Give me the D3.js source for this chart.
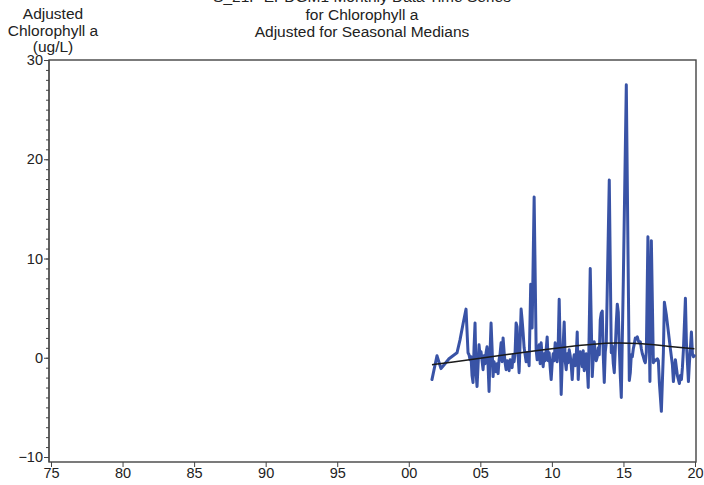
<!DOCTYPE html>
<html><head><meta charset="utf-8">
<script src="https://cdn.jsdelivr.net/npm/d3@7/dist/d3.min.js"></script>
<style>body{margin:0;background:#fff}svg{display:block}text{font-family:"Liberation Sans",Arial,sans-serif}</style>
</head><body><svg id="c" width="704" height="485"></svg>
<script>
const titleLines = ["S_21P EPDGM1 Monthly Data Time Series", "for Chlorophyll a", "Adjusted for Seasonal Medians"];
const yLabelLines = ["Adjusted", "Chlorophyll a", "(ug/L)"];
const xTicks = [1975, 1980, 1985, 1990, 1995, 2000, 2005, 2010, 2015, 2020];
const yTicks = [-10, 0, 10, 20, 30];

const years = [2001.62,2001.97,2002.25,2002.53,2002.81,2003.09,2003.37,2003.58,2003.79,2004.00,
2004.14,2004.21,2004.28,2004.35,2004.42,2004.49,2004.56,2004.63,2004.70,2004.77,2004.84,2004.91,2004.98,
2005.05,2005.12,2005.19,2005.26,2005.33,2005.40,2005.47,2005.54,2005.61,2005.68,2005.75,2005.82,2005.89,2005.96,
2006.03,2006.10,2006.17,2006.24,2006.31,2006.38,2006.45,2006.52,2006.59,2006.66,2006.73,2006.80,2006.87,2006.94,
2007.01,2007.08,2007.15,2007.22,2007.29,2007.36,2007.43,2007.50,2007.57,2007.64,2007.71,2007.78,2007.85,2007.92,2007.99,
2008.06,2008.13,2008.20,2008.27,2008.34,2008.41,2008.52,2008.62,2008.76,2008.90,2008.97,
2009.04,2009.11,2009.18,2009.25,2009.32,2009.39,2009.46,2009.53,2009.60,2009.67,2009.74,2009.81,2009.88,2009.95,
2010.02,2010.09,2010.16,2010.23,2010.30,2010.37,2010.44,2010.51,2010.58,2010.65,2010.72,2010.79,2010.86,2010.93,
2011.00,2011.07,2011.14,2011.21,2011.28,2011.35,2011.42,2011.49,2011.56,2011.63,2011.70,2011.77,2011.84,2011.91,2011.98,
2012.05,2012.12,2012.19,2012.26,2012.33,2012.40,2012.47,2012.54,2012.68,2012.82,2012.89,2012.96,
2013.03,2013.10,2013.17,2013.24,2013.31,2013.38,2013.45,2013.52,2013.59,2013.66,2013.73,2013.80,
2014.01,2014.15,2014.22,2014.29,2014.36,2014.43,2014.50,2014.57,2014.64,2014.71,2014.78,2014.85,2014.99,
2015.20,2015.41,2015.48,2015.55,2015.62,2015.69,2015.76,2015.83,2015.90,2015.97,
2016.04,2016.11,2016.18,2016.25,2016.32,2016.39,2016.46,2016.53,2016.60,2016.71,2016.85,2016.95,
2017.09,2017.16,2017.23,2017.30,2017.37,2017.44,2017.51,2017.65,2017.79,2017.86,
2018.00,2018.14,2018.28,2018.42,2018.49,2018.63,2018.70,2018.77,2018.84,2018.91,2018.98,
2019.05,2019.12,2019.19,2019.33,2019.40,2019.54,2019.61,2019.68,2019.75,2019.82,2019.89,2019.96];

const chla = [-2.2,0.2,-1.1,-0.6,-0.1,0.2,0.5,1.8,3.4,4.9,
0.5,0.3,-0.2,0.1,-1.8,-2.5,1.0,3.5,-1.5,-2.9,-0.8,1.3,0.2,
0.6,-0.3,-1.2,0.2,-0.6,0.5,1.1,-0.8,-3.4,0.6,3.5,1.0,-1.9,-0.4,
-0.9,-1.4,-0.6,-1.6,-0.2,0.4,1.5,-0.4,2.0,0.6,-0.5,-1.2,-0.3,-0.6,
-1.3,-0.2,-0.7,-1.0,0.3,-0.4,0.6,3.5,3.1,0.2,-1.5,1.6,4.9,3.8,2.5,
1.0,0.3,-0.4,0.5,0.0,-0.8,7.4,3.0,16.2,0.8,-0.2,
0.6,1.3,-0.6,1.5,0.1,-0.9,0.4,-0.3,0.8,2.1,-0.3,0.5,-1.0,-2.2,
-0.6,0.4,-0.3,1.5,0.4,-0.4,1.2,5.9,1.0,-3.7,-0.6,1.4,3.6,-0.3,
-1.2,0.4,-0.5,0.8,0.2,-0.7,-2.2,-0.4,0.3,-0.8,0.1,2.6,-2.2,-0.2,0.6,
0.1,-0.9,0.7,-1.3,-0.2,0.4,-1.0,-3.0,9.0,-1.9,0.0,1.6,
0.4,-0.3,0.1,1.0,0.3,3.8,4.5,4.7,0.2,-2.5,0.6,1.5,
17.9,0.5,1.2,-0.6,-1.5,0.9,3.5,5.4,4.6,1.0,-1.8,-4.0,7.7,
27.5,-2.3,-1.5,0.3,0.1,0.9,1.4,2.0,1.9,2.1,
1.7,1.5,1.6,0.9,0.4,0.1,-0.3,-0.5,0.6,12.2,-2.4,11.8,
-0.5,-0.2,-0.3,-0.2,-0.1,-0.3,-2.5,-5.4,0.5,5.6,
4.3,2.6,0.9,-0.7,-2.4,-0.2,-1.0,-1.8,-2.2,-2.6,-1.8,
-2.2,-1.0,0.8,6.0,1.5,-2.4,-0.5,1.0,2.6,0.4,0.1,0.2];

const trendYears = [2001.62,2003,2005,2007,2009,2011,2013,2014.5,2016,2017.5,2019.96];
const trendVals  = [-0.7,-0.45,-0.05,0.35,0.75,1.1,1.4,1.5,1.45,1.25,0.9];

const svg = d3.select("#c");
const x = d3.scaleLinear().domain([1975, 2020]).range([51, 695]);
const y = d3.scaleLinear().domain([-10, 30]).range([457, 60]);
const frame = {l: 49, r: 696, t: 60, b: 462};
const FONT = '"Liberation Sans",Arial,sans-serif';

// frame
svg.append("rect").attr("x", frame.l).attr("y", frame.t)
  .attr("width", frame.r - frame.l).attr("height", frame.b - frame.t)
  .attr("fill", "none").attr("stroke", "#444").attr("stroke-width", 1.4);

// y minor ticks
const yAxisMinor = d3.axisLeft(y).tickValues(d3.range(-10, 31, 1)).tickSize(3).tickFormat("");
svg.append("g").attr("transform", `translate(${frame.l},0)`).call(yAxisMinor)
  .call(g => g.select(".domain").remove())
  .call(g => g.selectAll("line").attr("stroke", "#444"));
// y major
const yAxis = d3.axisLeft(y).tickValues(yTicks).tickSize(5).tickPadding(1).tickFormat(d3.format("d"));
svg.append("g").attr("transform", `translate(${frame.l},0)`).call(yAxis)
  .call(g => g.select(".domain").attr("stroke", "#444").attr("d", `M0,${y(30)}V${frame.b}`))
  .call(g => g.selectAll("line").attr("stroke", "#444"))
  .call(g => g.selectAll("text").attr("font-size", 14.5).attr("fill", "#222").attr("font-family", FONT));

// x axis
const xAxis = d3.axisBottom(x).tickValues(xTicks).tickSize(5).tickPadding(1)
  .tickFormat(d => String(d % 100).padStart(2, "0"));
svg.append("g").attr("transform", `translate(0,${frame.b})`).call(xAxis)
  .call(g => g.select(".domain").remove())
  .call(g => g.selectAll("line").attr("stroke", "#444"))
  .call(g => g.selectAll("text").attr("font-size", 14.5).attr("fill", "#222").attr("font-family", FONT));

// data line
const pts = years.map((yr, i) => [yr, chla[i]]);
svg.append("path").datum(pts)
  .attr("fill", "none").attr("stroke", "#3953a6").attr("stroke-width", 3)
  .attr("stroke-linejoin", "round").attr("stroke-linecap", "round")
  .attr("d", d3.line().x(d => x(d[0])).y(d => y(d[1])));

// trend
const tpts = trendYears.map((yr, i) => [yr, trendVals[i]]);
svg.append("path").datum(tpts)
  .attr("fill", "none").attr("stroke", "#1a1a1a").attr("stroke-width", 1.5)
  .attr("d", d3.line().curve(d3.curveBasis).x(d => x(d[0])).y(d => y(d[1])));

// title (top line is partly cut off at the top edge, as in the reference)
svg.append("g").selectAll("text").data(titleLines).join("text")
  .attr("x", 362).attr("y", (d, i) => 2 + i * 17.5)
  .attr("text-anchor", "middle").attr("font-size", 15.5).attr("fill", "#222")
  .attr("textLength", (d, i) => i === 0 ? null : null).text(d => d);

// y label
svg.append("g").selectAll("text").data(yLabelLines).join("text")
  .attr("x", 53).attr("y", (d, i) => 19 + i * 16.5)
  .attr("text-anchor", "middle").attr("font-size", 15.5).attr("fill", "#222").text(d => d);
</script></body></html>
